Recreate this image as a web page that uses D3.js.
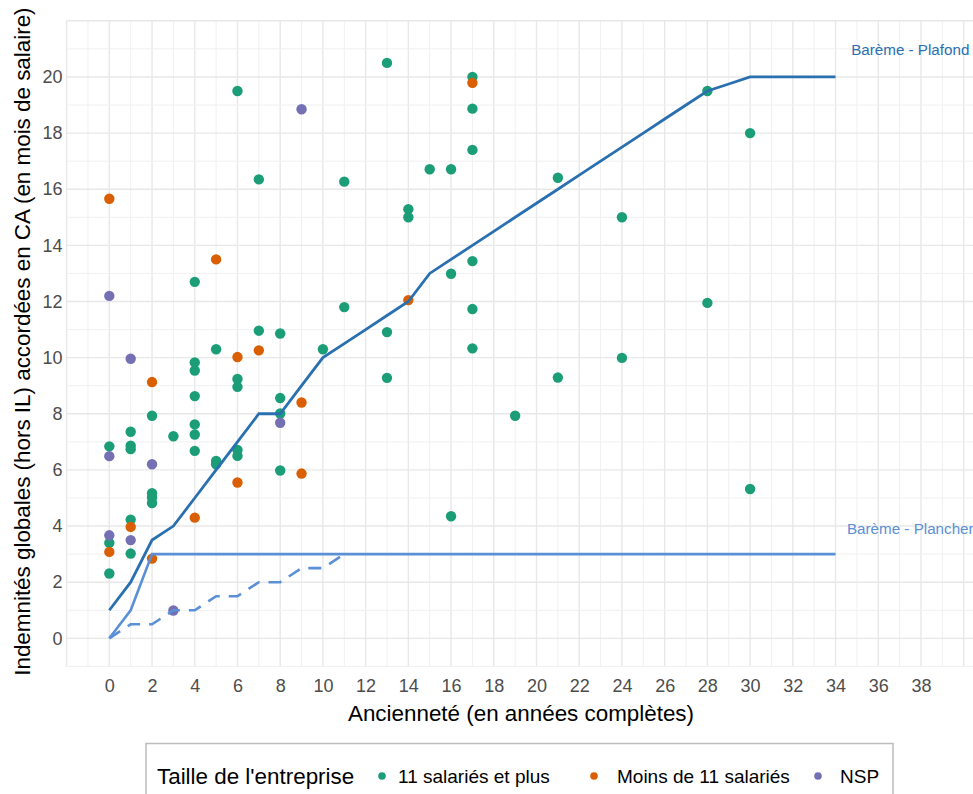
<!DOCTYPE html>
<html>
<head>
<meta charset="utf-8">
<script src="https://cdn.jsdelivr.net/npm/d3@7"></script>
<style>
  body { margin: 0; background: #fff; }
  svg { display: block; font-family: "Liberation Sans", Arial, sans-serif; }
</style>
</head>
<body>
<svg id="chart"></svg>
<script>
// --- data ---
const groups = ['11 salariés et plus', 'Moins de 11 salariés', 'NSP'];
const groupColors = ['#1b9e77', '#d95f02', '#7570b3'];

// [ancienneté, indemnités] per company size
const pointsPlus11 = [
  [0, 6.84], [0, 3.4], [0, 2.31],
  [1, 7.36], [1, 6.86], [1, 6.74], [1, 4.23], [1, 3.02],
  [2, 7.93], [2, 5.17], [2, 5.02], [2, 4.82],
  [3, 7.2],
  [4, 12.7], [4, 9.83], [4, 9.54], [4, 8.63], [4, 7.62], [4, 7.26], [4, 6.68],
  [5, 10.3], [5, 6.32], [5, 6.2],
  [6, 19.5], [6, 9.24], [6, 8.96], [6, 6.71], [6, 6.5],
  [7, 16.35], [7, 10.96],
  [8, 10.86], [8, 8.56], [8, 8.01], [8, 5.98],
  [10, 10.3],
  [11, 16.27], [11, 11.8],
  [13, 20.5], [13, 10.91], [13, 9.28],
  [14, 15.29], [14, 15.0],
  [15, 16.71],
  [16, 16.71], [16, 12.99], [16, 4.35],
  [17, 20.0], [17, 18.87], [17, 17.4], [17, 13.44], [17, 11.73], [17, 10.33],
  [19, 7.93],
  [21, 16.41], [21, 9.29],
  [24, 15.0], [24, 9.99],
  [28, 19.5], [28, 11.95],
  [30, 18.0], [30, 5.32]
];
const pointsMoins11 = [
  [0, 15.66], [0, 3.08],
  [1, 3.97],
  [2, 9.13], [2, 2.84],
  [4, 4.3],
  [5, 13.5],
  [6, 10.02], [6, 5.55],
  [7, 10.26],
  [9, 8.4], [9, 5.87],
  [14, 12.05],
  [17, 19.79]
];
const pointsNSP = [
  [0, 12.2], [0, 6.49], [0, 3.67],
  [1, 9.96], [1, 3.5],
  [2, 6.2],
  [3, 0.99],
  [8, 7.68],
  [9, 18.85]
];

// barème lines
const baremeYears = [0, 1, 2, 3, 4, 5, 6, 7, 8, 9, 10, 11, 12, 13, 14, 15, 16, 17, 18, 19, 20, 21, 22, 23, 24, 25, 26, 27, 28, 29, 30, 31, 32, 33, 34];
const plafond = [1, 2, 3.5, 4, 5, 6, 7, 8, 8, 9, 10, 10.5, 11, 11.5, 12, 13, 13.5, 14, 14.5, 15, 15.5, 16, 16.5, 17, 17.5, 18, 18.5, 19, 19.5, 19.75, 20, 20, 20, 20, 20];
const plancher = [0, 1, 3, 3, 3, 3, 3, 3, 3, 3, 3, 3, 3, 3, 3, 3, 3, 3, 3, 3, 3, 3, 3, 3, 3, 3, 3, 3, 3, 3, 3, 3, 3, 3, 3];
const plancherPetitYears = [0, 1, 2, 3, 4, 5, 6, 7, 8, 9, 10, 11];
const plancherPetit = [0, 0.5, 0.5, 1, 1, 1.5, 1.5, 2, 2, 2.5, 2.5, 3];

const xTicks = [0, 2, 4, 6, 8, 10, 12, 14, 16, 18, 20, 22, 24, 26, 28, 30, 32, 34, 36, 38];
const yTicks = [0, 2, 4, 6, 8, 10, 12, 14, 16, 18, 20];

const plafondColor = '#2a70b1';
const plancherColor = '#5b8fd6';

// --- layout ---
const W = 973, H = 794;
const panel = { left: 66.6, right: 1006.4, top: 20.8, bottom: 666.4 };

const svg = d3.select('#chart').attr('width', W).attr('height', H);

const x = d3.scaleLinear().domain([-2, 42]).range([panel.left, panel.right]);
const y = d3.scaleLinear().domain([-1, 22]).range([panel.bottom, panel.top]);

// grid (minor on odd values, major on even)
const grid = svg.append('g');
const gridXs = d3.range(-2, 43);
const gridYs = d3.range(-1, 23);
grid.selectAll('.vgrid').data(gridXs).enter().append('line')
  .attr('x1', d => x(d)).attr('x2', d => x(d))
  .attr('y1', panel.top).attr('y2', panel.bottom)
  .attr('stroke', d => d % 2 === 0 ? '#e8e8e8' : '#f0f0f0')
  .attr('stroke-width', d => d % 2 === 0 ? 1.4 : 1);
grid.selectAll('.hgrid').data(gridYs).enter().append('line')
  .attr('x1', panel.left).attr('x2', panel.right)
  .attr('y1', d => y(d)).attr('y2', d => y(d))
  .attr('stroke', d => d % 2 === 0 ? '#e8e8e8' : '#f0f0f0')
  .attr('stroke-width', d => d % 2 === 0 ? 1.4 : 1);

// axes (labels only)
const xAxis = svg.append('g')
  .attr('transform', `translate(0,${panel.bottom + 9})`)
  .call(d3.axisBottom(x).tickValues(xTicks).tickSize(0).tickPadding(0));
const yAxis = svg.append('g')
  .attr('transform', `translate(${panel.left - 4},0)`)
  .call(d3.axisLeft(y).tickValues(yTicks).tickSize(0).tickPadding(0));
[xAxis, yAxis].forEach(a => {
  a.select('.domain').remove();
  a.selectAll('text')
    .style('font-family', '"Liberation Sans", Arial, sans-serif')
    .style('font-size', '18px')
    .attr('fill', '#4d4d4d');
});
xAxis.selectAll('text').attr('dy', '0.92em');

// axis titles
svg.append('text')
  .attr('x', 521).attr('y', 713)
  .attr('text-anchor', 'middle').attr('dominant-baseline', 'central')
  .style('font-size', '22.4px')
  .text('Ancienneté (en années complètes)');
svg.append('text')
  .attr('transform', `translate(22,${(panel.top + panel.bottom) / 2 - 2}) rotate(-90)`)
  .attr('text-anchor', 'middle').attr('dominant-baseline', 'central')
  .style('font-size', '22.4px')
  .text('Indemnités globales (hors IL) accordées en CA (en mois de salaire)');

// points
const pointSets = [pointsPlus11, pointsMoins11, pointsNSP];
pointSets.forEach((pts, i) => {
  svg.append('g').selectAll('circle').data(pts).enter().append('circle')
    .attr('cx', d => x(d[0]))
    .attr('cy', d => y(d[1]))
    .attr('r', 5.2)
    .attr('fill', groupColors[i]);
});

// barème lines drawn on top of points
const line = d3.line().x(d => x(d[0])).y(d => y(d[1]));
svg.append('path')
  .datum(plancherPetitYears.map((yr, i) => [yr, plancherPetit[i]]))
  .attr('d', line).attr('fill', 'none')
  .attr('stroke', plancherColor).attr('stroke-width', 2.6)
  .attr('stroke-dasharray', '13,9');
svg.append('path')
  .datum(baremeYears.map((yr, i) => [yr, plancher[i]]))
  .attr('d', line).attr('fill', 'none')
  .attr('stroke', plancherColor).attr('stroke-width', 2.6);
svg.append('path')
  .datum(baremeYears.map((yr, i) => [yr, plafond[i]]))
  .attr('d', line).attr('fill', 'none')
  .attr('stroke', plafondColor).attr('stroke-width', 2.8);

// line labels
svg.append('text')
  .attr('x', x(37.5)).attr('y', y(20.96))
  .attr('text-anchor', 'middle').attr('dominant-baseline', 'central')
  .style('font-size', '15.2px').attr('fill', plafondColor)
  .text('Barème - Plafond');
svg.append('text')
  .attr('x', x(37.5)).attr('y', y(3.93))
  .attr('text-anchor', 'middle').attr('dominant-baseline', 'central')
  .style('font-size', '15.2px').attr('fill', plancherColor)
  .text('Barème - Plancher');

// legend
const legend = svg.append('g');
legend.append('rect')
  .attr('x', 146).attr('y', 743.5).attr('width', 747).attr('height', 90)
  .attr('fill', '#fff').attr('stroke', '#bdbdbd').attr('stroke-width', 1.5);
const legY = 776;
legend.append('text')
  .attr('x', 157).attr('y', legY).attr('dominant-baseline', 'central')
  .style('font-size', '22.4px')
  .text("Taille de l'entreprise");
const keyDotX = [382, 594, 818];
const keyTextX = [398, 617, 840];
groups.forEach((g, i) => {
  legend.append('circle')
    .attr('cx', keyDotX[i]).attr('cy', legY).attr('r', 3.8)
    .attr('fill', groupColors[i]);
  legend.append('text')
    .attr('x', keyTextX[i]).attr('y', legY).attr('dominant-baseline', 'central')
    .style('font-size', '19px')
    .text(g);
});
</script>
</body>
</html>
